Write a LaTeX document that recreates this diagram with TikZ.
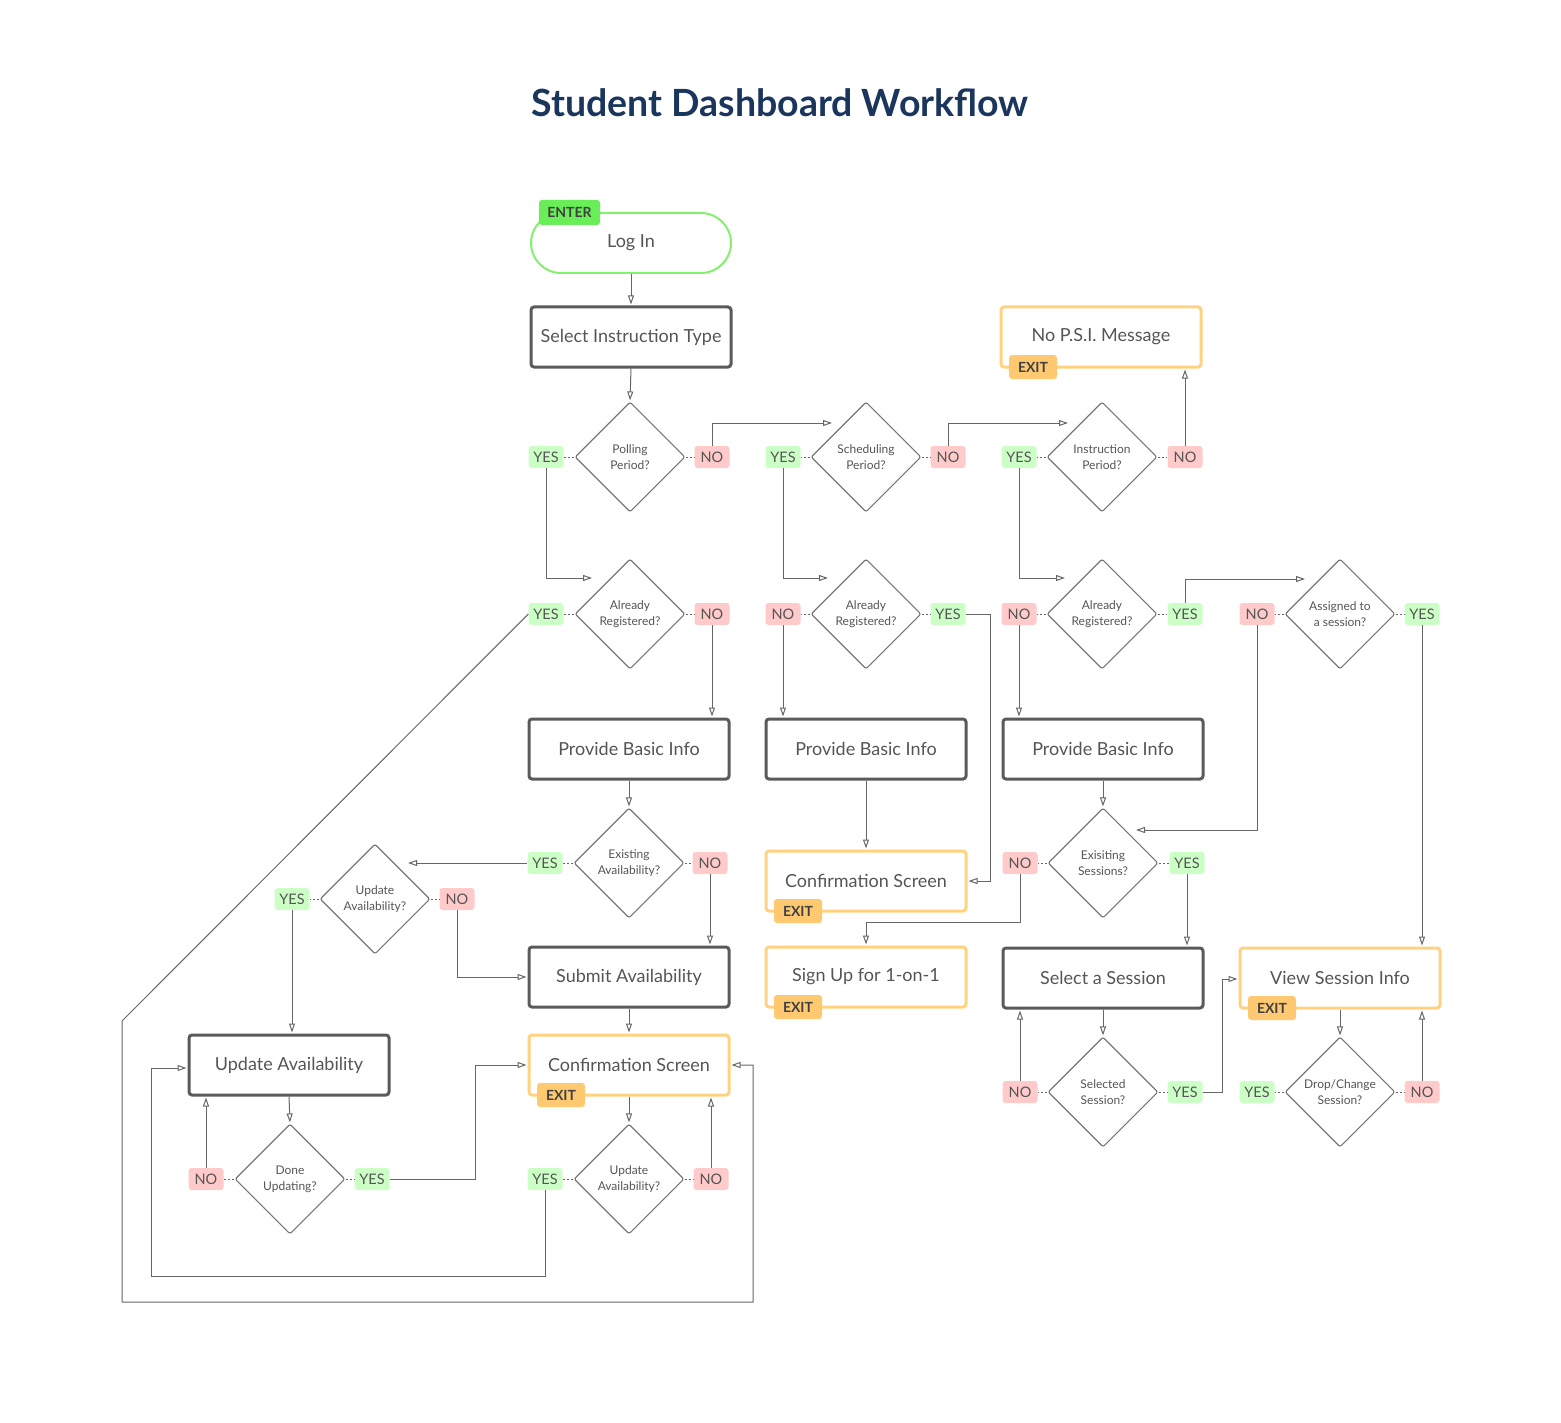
\documentclass[tikz,border=0pt]{standalone}
\usepackage{fontspec}
\setmainfont{Lato}
\usetikzlibrary{shapes.geometric,arrows.meta}
\definecolor{txt}{HTML}{555555}
\definecolor{boxc}{HTML}{5A5A5A}
\definecolor{orangec}{HTML}{FFD27F}
\definecolor{exitfill}{HTML}{FFC972}
\definecolor{greenc}{HTML}{85F06E}
\definecolor{enterfill}{HTML}{6AEE58}
\definecolor{yesfill}{HTML}{CCFFC6}
\definecolor{nofill}{HTML}{FFCACA}
\definecolor{linec}{HTML}{666666}
\definecolor{diac}{HTML}{777777}
\definecolor{titlec}{HTML}{1B365D}
\tikzset{
  proc/.style={draw=boxc, line width=3pt, rounded corners=3pt, minimum width=200pt, minimum height=60pt, inner sep=0pt, font=\fontsize{18}{22}\selectfont, text=txt},
  exitbox/.style={proc, draw=orangec},
  term/.style={draw=greenc, line width=2pt, rounded corners=30pt, minimum width=200pt, minimum height=60pt, inner sep=0pt, font=\fontsize{18}{22}\selectfont, text=txt},
  dec/.style={diamond, draw=diac, line width=1.1pt, minimum width=110pt, minimum height=110pt, inner sep=0pt, align=center, font=\fontsize{12}{16}\selectfont, text=txt, rounded corners=2pt},
  yestag/.style={fill=yesfill, rounded corners=3pt, minimum width=35pt, minimum height=22pt, inner sep=0pt, font=\fontsize{14.5}{14.5}\selectfont, text=txt},
  notag/.style={yestag, fill=nofill},
  exittag/.style={fill=exitfill, rounded corners=3pt, minimum width=48pt, minimum height=24pt, inner sep=0pt, font=\bfseries\fontsize{14}{14}\selectfont, text=black!75},
  entertag/.style={exittag, fill=enterfill, minimum width=61pt, minimum height=25pt},
  flow/.style={draw=linec, line width=1pt, shorten >=1pt, -{Triangle[open,length=9pt,width=6pt]}},
  dots/.style={draw=linec, line width=0.8pt, dash pattern=on 2pt off 2pt},
}
\begin{document}
\begin{tikzpicture}[x=1pt,y=-1pt]
\useasboundingbox (0,0) rectangle (1561,1423);
\node[font=\bfseries\fontsize{37.5}{44}\selectfont, text=titlec] (title) at (780,103) {Student Dashboard Workflow};

% row 0/1
\node[term] (login) at (631,243) {Log In};
\node[entertag] (enter) at (569.5,212.5) {ENTER};
\node[proc] (sit) at (631,337) {Select Instruction Type};
\node[exitbox] (psi) at (1101,337) {No P.S.I. Message};
\node[exittag] (psix) at (1033,367) {EXIT};

\node[dec] (d1) at (630,457) {Polling\\Period?};
\node[yestag] (d1y) at (546,457) {YES};
\node[notag] (d1n) at (712,457) {NO};
\node[dec] (d2) at (866,457) {Scheduling\\Period?};
\node[yestag] (d2y) at (783,457) {YES};
\node[notag] (d2n) at (948,457) {NO};
\node[dec] (d3) at (1102,457) {Instruction\\Period?};
\node[yestag] (d3y) at (1019,457) {YES};
\node[notag] (d3n) at (1185,457) {NO};

% row 2
\node[dec] (r1) at (630,614) {Already\\Registered?};
\node[yestag] (r1y) at (546,614) {YES};
\node[notag] (r1n) at (712,614) {NO};
\node[dec] (r2) at (866,614) {Already\\Registered?};
\node[notag] (r2n) at (783,614) {NO};
\node[yestag] (r2y) at (948,614) {YES};
\node[dec] (r3) at (1102,614) {Already\\Registered?};
\node[notag] (r3n) at (1019,614) {NO};
\node[yestag] (r3y) at (1185,614) {YES};
\node[dec] (r4) at (1340,614) {Assigned to\\a session?};
\node[notag] (r4n) at (1257,614) {NO};
\node[yestag] (r4y) at (1422,614) {YES};

% row 3
\node[proc] (b1) at (629,749) {Provide Basic Info};
\node[proc] (b2) at (866,749) {Provide Basic Info};
\node[proc] (b3) at (1103,749) {Provide Basic Info};

\node[dec] (e1) at (629,863) {Existing\\Availability?};
\node[yestag] (e1y) at (545,863) {YES};
\node[notag] (e1n) at (710,863) {NO};
\node[dec] (e2) at (1103,863) {Exisiting\\Sessions?};
\node[notag] (e2n) at (1020,863) {NO};
\node[yestag] (e2y) at (1187,863) {YES};
\node[dec] (u1) at (375,899) {Update\\Availability?};
\node[yestag] (u1y) at (292,899) {YES};
\node[notag] (u1n) at (457,899) {NO};

\node[exitbox] (conf1) at (866,881) {Confirmation Screen};
\node[exittag] (conf1x) at (798,911) {EXIT};
\node[exitbox] (signup) at (866,977) {Sign Up for 1-on-1};
\node[exittag] (signupx) at (798,1007) {EXIT};
\node[proc] (submit) at (629,977) {Submit Availability};
\node[proc] (selsess) at (1103,978) {Select a Session};
\node[exitbox] (view) at (1340,978) {View Session Info};
\node[exittag] (viewx) at (1272,1008) {EXIT};
\node[proc] (upd) at (289,1065) {Update Availability};
\node[exitbox] (conf2) at (629,1065) {Confirmation Screen};
\node[exittag] (conf2x) at (561,1095) {EXIT};

% row 5
\node[dec] (du) at (290,1179) {Done\\Updating?};
\node[notag] (dun) at (206,1179) {NO};
\node[yestag] (duy) at (372,1179) {YES};
\node[dec] (u2) at (629,1179) {Update\\Availability?};
\node[yestag] (u2y) at (545,1179) {YES};
\node[notag] (u2n) at (711,1179) {NO};
\node[dec] (ss) at (1103,1092) {Selected\\Session?};
\node[notag] (ssn) at (1020,1092) {NO};
\node[yestag] (ssy) at (1185,1092) {YES};
\node[dec] (dc) at (1340,1092) {Drop/Change\\Session?};
\node[yestag] (dcy) at (1257,1092) {YES};
\node[notag] (dcn) at (1422,1092) {NO};

% dotted tag links
\foreach \d/\l/\r in {d1/d1y/d1n, d2/d2y/d2n, d3/d3y/d3n, r1/r1y/r1n, r2/r2n/r2y, r3/r3n/r3y, r4/r4n/r4y, e1/e1y/e1n, e2/e2n/e2y, u1/u1y/u1n, du/dun/duy, u2/u2y/u2n, ss/ssn/ssy, dc/dcy/dcn}{
  \draw[dots] (\d.west) -- (\l.east);
  \draw[dots] (\d.east) -- (\r.west);
}

% free-end coordinates
\coordinate (a3) at (833,423);
\coordinate (a4) at (1069,423);
\coordinate (a6) at (593,578);
\coordinate (a7) at (829,578);
\coordinate (a8) at (1066,578);
\coordinate (c10a) at (122,1021);
\coordinate (c10b) at (122,1302);
\coordinate (c10c) at (753,1302);
\coordinate (c10d) at (753,1065);
\coordinate (c12) at (990,881);
\coordinate (a14) at (1306,579);
\coordinate (a15) at (1135,830);
\coordinate (a20) at (407,863);
\coordinate (c24) at (866,922);
\coordinate (c29) at (475,1065);
\coordinate (c32a) at (151,1276);
\coordinate (c32b) at (151,1068);
\coordinate (c35) at (1222,979);

% connectors
\draw[flow] (login.south) -- (sit.north);
\draw[flow] (sit.south) -- (d1.north);
\draw[flow] (d1n.north) |- (a3);
\draw[flow] (d2n.north) |- (a4);
\draw[flow] (d3n.north) -- (d3n.north |- psi.south);
\draw[flow] (d1y.south) |- (a6);
\draw[flow] (d2y.south) |- (a7);
\draw[flow] (d3y.south) |- (a8);
\draw[flow] (r1n.south) -- (r1n.south |- b1.north);
\draw[flow] (r1y.west) -- (c10a) -- (c10b) -- (c10c) -- (c10d) -- (conf2.east);
\draw[flow] (r2n.south) -- (r2n.south |- b2.north);
\draw[flow] (r2y.east) -| (c12) -- (conf1.east);
\draw[flow] (r3n.south) -- (r3n.south |- b3.north);
\draw[flow] (r3y.north) |- (a14);
\draw[flow] (r4n.south) |- (a15);
\draw[flow] (r4y.south) -- (r4y.south |- view.north);
\draw[flow] (b1.south) -- (e1.north);
\draw[flow] (b2.south) -- (conf1.north);
\draw[flow] (b3.south) -- (e2.north);
\draw[flow] (e1y.west) -- (a20);
\draw[flow] (e1n.south) -- (e1n.south |- submit.north);
\draw[flow] (u1n.south) |- (submit.west);
\draw[flow] (u1y.south) -- (u1y.south |- upd.north);
\draw[flow] (e2n.south) |- (c24) -- (signup.north);
\draw[flow] (e2y.south) -- (e2y.south |- selsess.north);
\draw[flow] (submit.south) -- (conf2.north);
\draw[flow] (upd.south) -- (du.north);
\draw[flow] (dun.north) -- (dun.north |- upd.south);
\draw[flow] (duy.east) -| (c29) -- (conf2.west);
\draw[flow] (conf2.south) -- (u2.north);
\draw[flow] (u2n.north) -- (u2n.north |- conf2.south);
\draw[flow] (u2y.south) |- (c32a) -- (c32b) -- (c32b -| upd.west);
\draw[flow] (selsess.south) -- (ss.north);
\draw[flow] (ssn.north) -- (ssn.north |- selsess.south);
\draw[flow] (ssy.east) -| (c35) -- (c35 -| view.west);
\draw[flow] (view.south) -- (dc.north);
\draw[flow] (dcn.north) -- (dcn.north |- view.south);
\end{tikzpicture}
\end{document}
